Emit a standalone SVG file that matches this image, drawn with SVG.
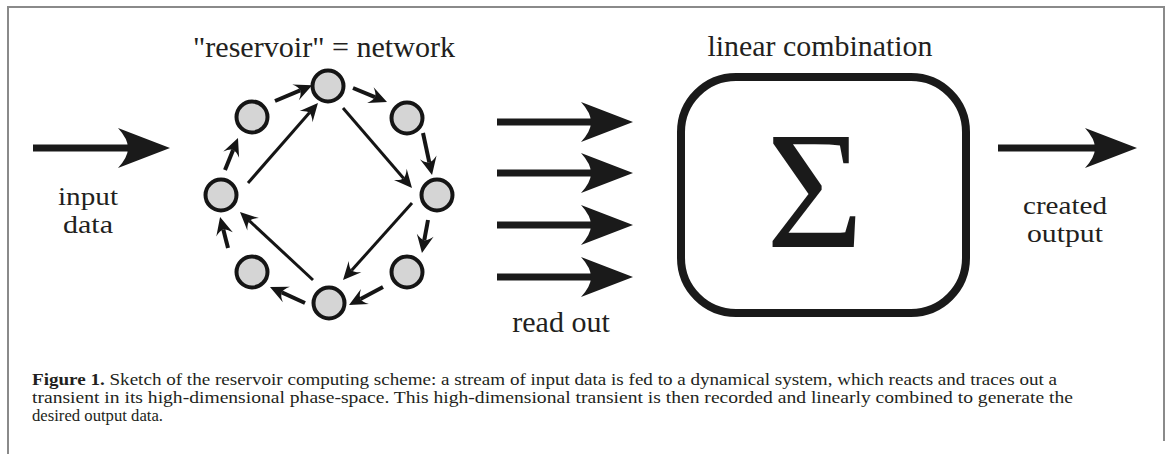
<svg xmlns="http://www.w3.org/2000/svg" width="1170" height="454" viewBox="0 0 1170 454">
  <style>
    .lbl { font-family: "Liberation Serif", "DejaVu Serif Condensed", "DejaVu Serif", serif; font-stretch: condensed; font-size: 30px; fill: #231f20; }
    .lbl2 { font-family: "Liberation Serif", "DejaVu Serif Condensed", "DejaVu Serif", serif; font-stretch: condensed; font-size: 25px; fill: #231f20; }
    .cap { font-family: "Liberation Serif", "DejaVu Serif Condensed", "DejaVu Serif", serif; font-stretch: condensed; font-size: 17px; fill: #231f20; }
    .node { fill: #d5d5d5; stroke: #151515; stroke-width: 4; }
    .short { stroke: #151515; stroke-width: 4; fill: none; marker-end: url(#head); }
    .diag { stroke: #151515; stroke-width: 3; fill: none; marker-end: url(#head); }
    .shaft { stroke: #1a1a1a; stroke-width: 7; fill: none; }
    .frame { stroke: #8a8a8a; stroke-width: 2; fill: none; }
  </style>
  <defs>
    <!-- barbed arrowhead for the network links; reference point at the notch -->
    <marker id="head" markerUnits="userSpaceOnUse" markerWidth="20" markerHeight="18" viewBox="0 -9 19 18" refX="5" refY="0" orient="auto">
      <path d="M0,-8.5 L18,0 L0,8.5 Q5,3.5 5,0 Q5,-3.5 0,-8.5 Z" fill="#151515"/>
    </marker>
    <!-- large barbed arrowhead, tip at the origin -->
    <path id="bigHead" d="M0,0 L-52,-20 Q-42,-9 -42,0 Q-42,9 -52,20 Z" fill="#1a1a1a"/>
  </defs>

  <rect width="1170" height="454" fill="#ffffff"/>

  <!-- figure frame -->
  <path class="frame" d="M8,454 L8,7 L1164,7 L1164,441"/>

  <!-- input -->
  <g id="input">
    <line class="shaft" x1="33" y1="148" x2="130" y2="148"/>
    <use href="#bigHead" transform="translate(170,148)"/>
    <text class="lbl2" x="88" y="205" text-anchor="middle" textLength="60" lengthAdjust="spacingAndGlyphs">input</text>
    <text class="lbl2" x="88" y="233" text-anchor="middle" textLength="50" lengthAdjust="spacingAndGlyphs">data</text>
  </g>

  <!-- reservoir title -->
  <text id="reservoir-title" class="lbl" x="324" y="57" text-anchor="middle" textLength="262" lengthAdjust="spacingAndGlyphs">"reservoir" = network</text>

  <!-- reservoir links -->
  <g id="links">
    <line class="short" x1="225" y1="170" x2="233.1" y2="150.0"/>
    <line class="short" x1="275" y1="101" x2="300.2" y2="90.4"/>
    <line class="short" x1="353" y1="88" x2="375.0" y2="97.1"/>
    <line class="short" x1="423" y1="133" x2="429.3" y2="162.3"/>
    <line class="short" x1="428" y1="220" x2="424.3" y2="240.2"/>
    <line class="short" x1="383" y1="287" x2="360.5" y2="298.9"/>
    <line class="short" x1="305" y1="303" x2="281.8" y2="292.4"/>
    <line class="short" x1="228" y1="248" x2="223.3" y2="229.6"/>
    <line class="diag" x1="248" y1="183" x2="309.4" y2="112.8"/>
    <line class="diag" x1="343" y1="108" x2="403.5" y2="178.2"/>
    <line class="diag" x1="412" y1="203" x2="351.7" y2="270.3"/>
    <line class="diag" x1="313" y1="280" x2="249.5" y2="220.9"/>
  </g>

  <!-- reservoir nodes -->
  <g id="n-top"><circle class="node" cx="328" cy="86" r="15.5"/></g>
  <g id="n-upper-right"><circle class="node" cx="407" cy="118" r="15.5"/></g>
  <g id="n-right"><circle class="node" cx="437" cy="195" r="15.5"/></g>
  <g id="n-lower-right"><circle class="node" cx="407" cy="272" r="15.5"/></g>
  <g id="n-bottom"><circle class="node" cx="329" cy="303" r="15.5"/></g>
  <g id="n-lower-left"><circle class="node" cx="252" cy="272" r="15.5"/></g>
  <g id="n-left"><circle class="node" cx="221" cy="195" r="15.5"/></g>
  <g id="n-upper-left"><circle class="node" cx="252" cy="117" r="15.5"/></g>

  <!-- read out arrows -->
  <g id="readout">
    <line class="shaft" x1="497" y1="122" x2="593" y2="122"/>
    <use href="#bigHead" transform="translate(633,122)"/>
    <line class="shaft" x1="497" y1="173" x2="593" y2="173"/>
    <use href="#bigHead" transform="translate(633,173)"/>
    <line class="shaft" x1="497" y1="225" x2="593" y2="225"/>
    <use href="#bigHead" transform="translate(633,225)"/>
    <line class="shaft" x1="497" y1="277" x2="593" y2="277"/>
    <use href="#bigHead" transform="translate(633,277)"/>
    <text class="lbl" x="561" y="332" text-anchor="middle">read out</text>
  </g>

  <!-- linear combination box -->
  <g id="sum">
    <text class="lbl" x="820" y="56" text-anchor="middle" textLength="225" lengthAdjust="spacingAndGlyphs">linear combination</text>
    <rect x="681" y="77" width="285" height="236" rx="55" ry="55" fill="none" stroke="#1a1a1a" stroke-width="8"/>
    <text class="lbl" x="815" y="247" text-anchor="middle" style="font-size:168px; fill:#1a1a1a">Σ</text>
  </g>

  <!-- output -->
  <g id="output">
    <line class="shaft" x1="998" y1="148" x2="1097" y2="148"/>
    <use href="#bigHead" transform="translate(1137,148)"/>
    <text class="lbl2" x="1065" y="214" text-anchor="middle" textLength="84" lengthAdjust="spacingAndGlyphs">created</text>
    <text class="lbl2" x="1065" y="242" text-anchor="middle" textLength="76" lengthAdjust="spacingAndGlyphs">output</text>
  </g>

  <!-- caption -->
  <g id="caption">
    <text class="cap" x="32" y="385" textLength="1025" lengthAdjust="spacingAndGlyphs"><tspan font-weight="bold">Figure 1.</tspan> Sketch of the reservoir computing scheme: a stream of input data is fed to a dynamical system, which reacts and traces out a</text>
    <text class="cap" x="32" y="403" textLength="1041" lengthAdjust="spacingAndGlyphs">transient in its high-dimensional phase-space. This high-dimensional transient is then recorded and linearly combined to generate the</text>
    <text class="cap" x="32" y="421" textLength="131" lengthAdjust="spacingAndGlyphs">desired output data.</text>
  </g>
</svg>
